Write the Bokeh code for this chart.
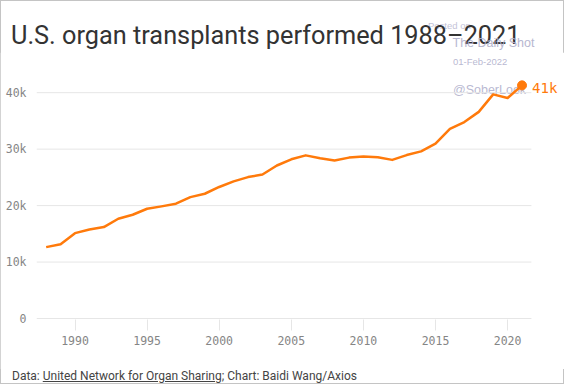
from bokeh.plotting import figure
from bokeh.models import Range1d, FixedTicker, Label, Div
from bokeh.layouts import column
from bokeh.embed import file_html
from bokeh.resources import INLINE

years = list(range(1988, 2022))
transplants = [12640, 13170, 15120, 15780, 16190, 17670, 18380, 19440, 19860, 20330,
               21500, 22100, 23300, 24300, 25050, 25500, 27100, 28200, 28900, 28400,
               28000, 28500, 28700, 28550, 28100, 28950, 29600, 30970, 33600, 34800,
               36600, 39700, 39050, 41300]
x_ticks = [1990, 1995, 2000, 2005, 2010, 2015, 2020]
y_ticks = [0, 10000, 20000, 30000, 40000]
y_tick_labels = ["0", "10k", "20k", "30k", "40k"]
last_label = "41k"
title_text = "U.S. organ transplants performed 1988\u20132021"
footer_html = ('Data: <u>United Network for Organ Sharing</u>; '
               'Chart: Baidi Wang/Axios')
watermark = ["Posted on", "The Daily Shot", "01-Feb-2022", "@SoberLook"]

# axis extents
x_start, x_end = 1987.33, 2023.53      # frame extends right to hold the end label
grid_x_end = 2021.65                   # grid lines stop here
y_start, y_end = -177, 46767

ORANGE = "#ff7a0b"
GRID = "#e6e6e6"
TICK_TXT = "#858585"
WM = "#b0b0cc"
W = 564

# ---------- header (title + watermark lines that overlap it) ----------
header_html = (
    f'<div style="position:relative;width:{W}px;height:52px;">'
    f'<span style="position:absolute;left:428px;top:20px;font-family:\'Liberation Sans\';'
    f'font-size:9.5px;line-height:11px;color:{WM};opacity:0.75;white-space:nowrap;">'
    f'{watermark[0]}</span>'
    f'<span style="position:absolute;left:11px;top:21px;font-family:Roboto;font-size:25.3px;'
    f'line-height:30.4px;color:#333333;white-space:nowrap;">{title_text}</span>'
    f'<span style="position:absolute;left:452.5px;top:35.7px;font-family:\'Liberation Sans\';'
    f'font-size:12.5px;line-height:14px;color:{WM};opacity:0.9;white-space:nowrap;">'
    f'{watermark[1]}</span>'
    '</div>'
)
header = Div(text=header_html, width=W, height=52, margin=(0, 0, 0, 0))

# ---------- chart ----------
p = figure(width=W, height=317, output_backend="svg", toolbar_location=None,
           x_range=Range1d(x_start, x_end), y_range=Range1d(y_start, y_end),
           min_border_left=36, min_border_right=6, min_border_top=2,
           min_border_bottom=50)
p.outline_line_color = None
p.background_fill_color = "white"
p.border_fill_color = "white"
p.xgrid.visible = False
p.ygrid.visible = False

# horizontal grid lines at the y ticks, ending before the end label
p.segment(x0=[x_start] * len(y_ticks), x1=[grid_x_end] * len(y_ticks),
          y0=y_ticks, y1=y_ticks, line_color=GRID, line_width=1)

xa = p.xaxis[0]
xa.ticker = FixedTicker(ticks=x_ticks)
xa.axis_line_color = None
xa.major_tick_line_color = GRID
xa.major_tick_in = 0
xa.major_tick_out = 11
xa.minor_tick_line_color = None
xa.major_label_text_font = "DejaVu Sans Mono"
xa.major_label_text_font_size = "11.5px"
xa.major_label_text_color = TICK_TXT
xa.major_label_standoff = 5
xa.axis_label_standoff = 0

ya = p.yaxis[0]
ya.ticker = FixedTicker(ticks=y_ticks)
ya.major_label_overrides = {t: l for t, l in zip(y_ticks, y_tick_labels)}
ya.axis_line_color = None
ya.major_tick_line_color = None
ya.minor_tick_line_color = None
ya.major_label_text_font = "DejaVu Sans Mono"
ya.major_label_text_font_size = "11.5px"
ya.major_label_text_color = TICK_TXT
ya.major_label_standoff = 4

# watermark lines that fall inside the plot area
p.add_layout(Label(x=2016.21, y=45580, text=watermark[2], text_font="Liberation Sans",
                   text_font_size="9.5px", text_color=WM, text_alpha=0.9,
                   text_baseline="middle", text_align="left"))
p.add_layout(Label(x=2016.21, y=40390, text=watermark[3], text_font="Liberation Sans",
                   text_font_size="12.5px", text_color=WM, text_alpha=0.9,
                   text_baseline="middle", text_align="left", level="underlay"))

p.line(years, transplants, line_color=ORANGE, line_width=2.5, line_join="round")
p.scatter([years[-1]], [transplants[-1]], size=9, fill_color=ORANGE, line_color=ORANGE)

p.add_layout(Label(x=years[-1], y=transplants[-1], x_offset=10, y_offset=-3,
                   text=last_label, text_font="DejaVu Sans Mono", text_font_size="14px",
                   text_color=ORANGE, text_baseline="middle", text_align="left"))

# ---------- footer ----------
footer = Div(text=footer_html, width=W, height=15, margin=(0, 0, 0, 0),
             styles={"font-family": "Roboto", "font-size": "12px", "color": "#444444",
                     "line-height": "14px", "padding-left": "12px",
                     "white-space": "nowrap"})

layout = column(header, p, footer, spacing=0,
                styles={"outline": "1px solid #c4c4c4", "outline-offset": "-1px"})
open("out.html", "w").write(file_html(layout, INLINE))
